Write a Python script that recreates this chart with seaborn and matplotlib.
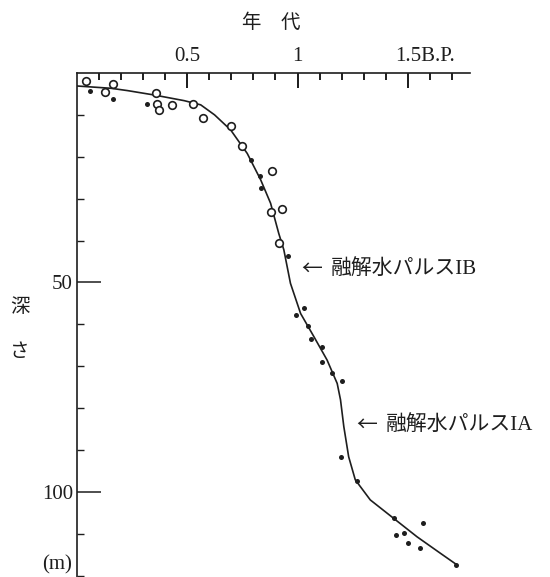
import numpy as np
import pandas as pd
import matplotlib.pyplot as plt
import matplotlib.transforms as mtransforms
import seaborn as sns

# age (x 10^4 yr B.P.) and depth (m)
open_age = [0.041, 0.128, 0.164, 0.357, 0.362, 0.372, 0.429, 0.524, 0.573, 0.70,
            0.75, 0.886, 0.881, 0.931, 0.915]
open_depth = [1.8, 4.6, 2.6, 4.8, 7.5, 8.8, 7.6, 7.4, 10.7, 12.6,
              17.4, 23.3, 33.1, 32.5, 40.6]

filled_age = [0.060, 0.162, 0.317, 0.787, 0.828, 0.833, 0.956, 1.029, 0.994, 1.047,
              1.059, 1.112, 1.112, 1.157, 1.202, 1.199, 1.270, 1.439, 1.569, 1.447,
              1.484, 1.501, 1.557, 1.719]
filled_depth = [4.2, 6.2, 7.5, 20.8, 24.6, 27.4, 43.7, 56.0, 57.8, 60.5,
                63.6, 65.5, 68.9, 71.5, 73.4, 91.7, 97.5, 106.3, 107.5, 110.3,
                109.9, 112.1, 113.4, 117.4]

curve_age = [0.0, 0.154, 0.229, 0.35, 0.486, 0.561, 0.624, 0.697, 0.772, 0.833,
             0.878, 0.915, 0.938, 0.968, 1.014, 1.074, 1.134, 1.18, 1.195, 1.21,
             1.232, 1.262, 1.33, 1.436, 1.542, 1.647, 1.723]
curve_depth = [3.1, 3.65, 4.2, 5.25, 6.6, 7.6, 10.0, 13.6, 19.2, 25.5,
               31.1, 38.3, 42.2, 50.2, 57.4, 62.9, 68.5, 74.1, 78.0, 84.4,
               91.6, 97.1, 101.9, 106.3, 110.7, 114.6, 117.4]

x_major = [0.5, 1, 1.5]
x_labels = ['0.5', '1', '1.5B.P.']
x_minor = [0.1, 0.2, 0.3, 0.4, 0.6, 0.7, 0.8, 0.9, 1.1, 1.2, 1.3, 1.4, 1.6, 1.7]
y_major = [50, 100]
y_labels = ['50', '100']
y_minor = [10, 20, 30, 40, 60, 70, 80, 90, 110, 120]

label_ib = '融解水パルスIB'
label_ia = '融解水パルスIA'
pos_ib = (1.019, 46.8)
pos_ia = (1.268, 84.0)

sns.set_style('ticks', {'xtick.top': True, 'xtick.bottom': False,
                        'xtick.direction': 'in', 'ytick.direction': 'in'})
plt.rcParams['font.family'] = ['Liberation Serif', 'Noto Sans CJK JP']
ink = '#1e1e1e'

fig = plt.figure(figsize=(5.5, 5.77), dpi=100)
ax = fig.add_axes([77/550, 0.0, 392.5/550, 504/577])

curve = pd.DataFrame({'age': curve_age, 'depth': curve_depth})
sns.lineplot(data=curve, x='age', y='depth', color=ink, lw=1.2,
             estimator=None, sort=False, ax=ax)
sns.scatterplot(x=open_age, y=open_depth, marker='o', s=30, facecolor='white',
                edgecolor=ink, linewidth=1.2, ax=ax, zorder=3)
sns.scatterplot(x=filled_age, y=filled_depth, marker='o', s=13, color=ink,
                edgecolor=ink, linewidth=0, ax=ax, zorder=3)

ax.set_xlim(0, 1.78)
ax.set_ylim(120.3, 0)
ax.set_xlabel('')
ax.set_ylabel('')

for s in ['bottom', 'right']:
    ax.spines[s].set_visible(False)
for s in ['top', 'left']:
    ax.spines[s].set_visible(True)
    ax.spines[s].set_color(ink)
    ax.spines[s].set_linewidth(1.2)

ax.xaxis.set_ticks_position('top')
ax.set_xticks(x_major)
ax.set_xticklabels(x_labels)
ax.set_xticks(x_minor, minor=True)
ax.set_yticks(y_major)
ax.set_yticklabels(y_labels)
ax.set_yticks(y_minor, minor=True)

ax.tick_params(axis='x', which='both', top=True, bottom=False)
ax.tick_params(axis='x', which='major', direction='in', length=11, width=1.3,
               color=ink, labelsize=15, pad=5, labelcolor=ink)
ax.tick_params(axis='x', which='minor', direction='in', length=5, width=1.2, color=ink)
ax.tick_params(axis='y', which='major', direction='in', length=17, width=1.1,
               color=ink, labelsize=15, pad=3, labelcolor=ink)
ax.tick_params(axis='y', which='minor', direction='in', length=4.7, width=1.0, color=ink)

# top ticks also drawn as short lines hanging from the top spine
top = ax.get_xaxis_transform()
ax.vlines(x_major, 1 - 15/504, 1, transform=top, color=ink, lw=1.3,
          clip_on=False, zorder=5)
ax.vlines(x_minor, 1 - 7/504, 1, transform=top, color=ink, lw=1.2,
          clip_on=False, zorder=5)

# keep "1.5" centred on its tick, with "B.P." trailing to the right
bp = ax.get_xticklabels()[2]
bp.set_ha('left')
bp.set_transform(bp.get_transform() + mtransforms.ScaledTranslation(-0.13, 0, fig.dpi_scale_trans))

for pos, lab in [(pos_ib, label_ib), (pos_ia, label_ia)]:
    ax.text(pos[0], pos[1], '←', fontsize=15, va='center', ha='left', color=ink,
            family=['Noto Sans CJK JP'])
    ax.annotate(lab, xy=pos, xytext=(29, 0), textcoords='offset pixels',
                fontsize=15, va='center', ha='left', color=ink)

fig.text(271/550, 1 - 22/577, '年\u3000代', fontsize=14, ha='center', va='center',
         color=ink, family=['Noto Sans CJK JP'])
fig.text(20/550, 1 - 306/577, '深', fontsize=14, ha='center', va='center',
         color=ink, family=['Noto Sans CJK JP'])
fig.text(20/550, 1 - 352/577, 'さ', fontsize=14, ha='center', va='center',
         color=ink, family=['Noto Sans CJK JP'])
fig.text(57.5/550, 1 - 565/577, '(m)', fontsize=15, ha='center', va='center', color=ink)

fig.savefig('out.png', dpi=100, facecolor='white')
